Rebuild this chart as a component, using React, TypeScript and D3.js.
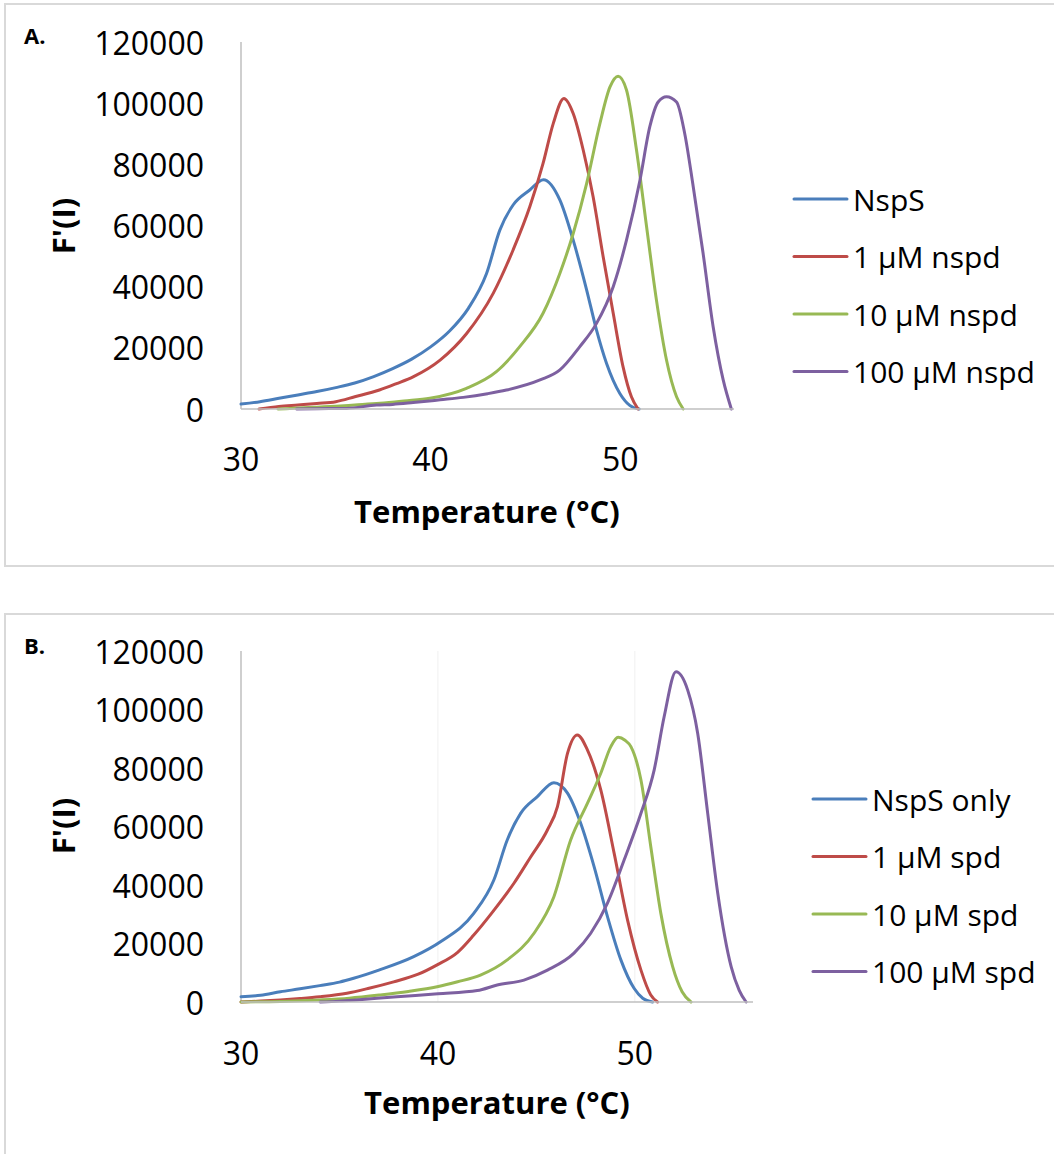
import React from 'react';
import * as d3 from 'd3';

type Pt = [number, number];

// temperature (°C), F'(I)
const colors = ['#4a7ebb', '#be4b48', '#98b954', '#7d60a0'];
const xTicks = [30, 40, 50];
const yTicks = [0, 20000, 40000, 60000, 80000, 100000, 120000];

const namesA = ['NspS', '1 µM nspd', '10 µM nspd', '100 µM nspd'];
const namesB = ['NspS only', '1 µM spd', '10 µM spd', '100 µM spd'];

// panel A
const nspsA: Pt[] = [[30, 1600], [31, 2400], [32, 3500], [33, 4600], [34, 5700], [35, 7000], [36, 8500], [37, 10600], [38, 13200], [39, 16300], [40, 20300], [41, 25500], [42, 33000], [42.95, 44300], [43.65, 58500], [44.35, 66700], [45.23, 71600], [45.95, 75000], [46.82, 68300], [47.52, 55200], [48.23, 38900], [48.75, 25800], [49.28, 14900], [49.98, 5100], [50.5, 1200], [51.0, 0]];
const nspd1A: Pt[] = [[30.95, 0], [32, 800], [33, 1300], [34, 1800], [35, 2400], [36, 4000], [37.3, 6200], [38.2, 8300], [39.1, 10600], [40.5, 16000], [41.9, 24700], [43.3, 37800], [44.35, 52000], [45.23, 66100], [45.93, 80300], [46.47, 93400], [47.03, 101500], [47.52, 96600], [48.05, 84600], [48.57, 69400], [49.1, 49800], [49.63, 31300], [50.15, 13800], [50.59, 4000], [50.94, 0]];
const nspd10A: Pt[] = [[31.95, 0], [33, 300], [34, 600], [35, 900], [36, 1300], [37.33, 1850], [38.6, 2600], [39.96, 3500], [41.89, 6760], [43.47, 12200], [44.7, 20400], [45.93, 31300], [46.82, 44400], [47.52, 57400], [48.23, 73800], [48.93, 93400], [49.46, 105300], [49.89, 108800], [50.33, 104300], [50.86, 84600], [51.39, 59600], [51.91, 35600], [52.44, 16000], [52.97, 4000], [53.32, 0]];
const nspd100A: Pt[] = [[32.93, 0], [34, 100], [35.57, 200], [37.15, 1300], [38, 1500], [39.08, 2100], [40.5, 3000], [41.72, 3800], [43, 5000], [44, 6200], [45.77, 9500], [46.82, 12800], [47.87, 20400], [48.75, 28000], [49.63, 40000], [50.33, 55200], [51.04, 74800], [51.56, 92300], [52, 100400], [52.44, 102100], [52.97, 100400], [53.4, 90100], [53.85, 72700], [54.37, 50900], [54.9, 26900], [55.43, 9500], [55.86, 0]];

// panel B
const nspsB: Pt[] = [[30, 1800], [31, 2300], [32, 3500], [33, 4500], [34, 5600], [35, 6800], [35.72, 8100], [37, 10900], [38.77, 15500], [40.13, 20600], [41.82, 30300], [42.84, 41700], [43.52, 55400], [44.2, 64500], [45.05, 70200], [45.89, 75000], [46.58, 71400], [47.25, 61100], [47.93, 46300], [48.61, 29200], [49.29, 14400], [49.96, 4700], [50.4, 1300], [50.9, 0]];
const spd1B: Pt[] = [[30, 0], [31, 300], [32, 700], [33, 1200], [34, 1800], [35.38, 3000], [36.5, 4700], [37.75, 6900], [39, 9500], [39.96, 12700], [41, 17000], [41.82, 22900], [42.8, 31000], [43.86, 40600], [44.7, 49500], [45.56, 58800], [46.07, 66800], [46.58, 85000], [47.08, 91300], [47.59, 86200], [48.27, 72500], [48.95, 50800], [49.63, 28000], [50.31, 10900], [50.8, 2500], [51.15, 0]];
const spd10B: Pt[] = [[30, 0], [32, 200], [34, 700], [35.5, 1300], [37.07, 2400], [38.5, 3600], [39.96, 5200], [41, 6900], [42.16, 9200], [43.52, 14400], [44.88, 23500], [45.89, 36000], [46.74, 55400], [47.59, 67900], [48.27, 78200], [48.78, 87300], [49.15, 90500], [49.5, 89500], [49.8, 87300], [50.31, 75900], [50.81, 53100], [51.32, 30300], [51.92, 12100], [52.4, 3500], [52.85, 0]];
const spd100B: Pt[] = [[34.02, 0], [35, 300], [36, 800], [37.92, 1800], [40, 2800], [42, 3900], [43.01, 5800], [44.37, 7500], [45.56, 10900], [46.91, 16700], [47.76, 23500], [48.61, 33800], [49.46, 48600], [50.31, 64500], [50.98, 79300], [51.49, 97600], [52.09, 112900], [52.68, 106700], [53.19, 91900], [53.7, 64500], [54.21, 37200], [54.89, 12100], [55.3, 4000], [55.65, 0]];

const FONT = "'Open Sans', 'Liberation Sans', sans-serif";

type PanelProps = {
  letter: string;
  frameTop: number;
  frameH: number;
  xRange: [number, number];
  yRange: [number, number];
  series: Pt[][];
  names: string[];
  grid: boolean;
  xTitleX: number;
  xTitleY: number;
  xLabelY: number;
  yTitleY: number;
  legend: { x0: number; x1: number; tx: number; y0: number };
};

function Panel(p: PanelProps) {
  const x = d3.scaleLinear().domain([30, 56]).range(p.xRange);
  const y = d3.scaleLinear().domain([0, 120000]).range(p.yRange);
  const line = d3.line<Pt>()
    .x(d => x(d[0]))
    .y(d => y(d[1]))
    .curve(d3.curveMonotoneX);
  const base = y(0);

  return (
    <g>
      <rect x={5} y={p.frameTop} width={1060} height={p.frameH} fill="#fff" stroke="#d9d9d9" strokeWidth={2} />
      <text x={24} y={p.frameTop + 40} fontFamily={FONT} fontWeight="bold" fontSize={22}>{p.letter}</text>

      {p.grid && [40, 50].map(t => (
        <line key={t} x1={x(t)} x2={x(t)} y1={y(120000)} y2={base} stroke="#f0f0f0" strokeWidth={1} />
      ))}

      {/* y axis */}
      <line x1={x(30)} x2={x(30)} y1={y(120000)} y2={base} stroke="#bfbfbf" strokeWidth={1.5} />
      {yTicks.map(v => (
        <text key={v} x={204} y={y(v)} textAnchor="end" dominantBaseline="central"
          fontFamily={FONT} fontSize={32}>{v}</text>
      ))}
      <text transform={`translate(63,${p.yTitleY}) rotate(-90)`} textAnchor="middle" dominantBaseline="central"
        fontFamily={FONT} fontWeight="bold" fontSize={31}>F'(I)</text>

      {/* x axis */}
      {xTicks.map(t => (
        <text key={t} x={x(t)} y={p.xLabelY} textAnchor="middle" dominantBaseline="central"
          fontFamily={FONT} fontSize={32}>{t}</text>
      ))}
      <text x={p.xTitleX} y={p.xTitleY} textAnchor="middle" fontFamily={FONT} fontWeight="bold" fontSize={31}>
        Temperature (°C)
      </text>

      {p.series.map((s, i) => (
        <path key={i} d={line(s) || ''} fill="none" stroke={colors[i]} strokeWidth={3}
          strokeLinejoin="round" strokeLinecap="round" />
      ))}
      <line x1={x(30)} x2={x(56)} y1={base} y2={base} stroke="#bfbfbf" strokeWidth={1.5} />

      {p.names.map((n, i) => {
        const ly = p.legend.y0 + i * 57.5;
        return (
          <g key={n}>
            <line x1={p.legend.x0} x2={p.legend.x1} y1={ly} y2={ly} stroke={colors[i]} strokeWidth={3} strokeLinecap="round" />
            <text x={p.legend.tx} y={ly} dominantBaseline="central" fontFamily={FONT} fontSize={30}>{n}</text>
          </g>
        );
      })}
    </g>
  );
}

export default function App() {
  return (
    <svg width={1054} height={1154} style={{ position: 'absolute', left: 0, top: 0, background: '#fff' }}>
      <rect width={1054} height={1154} fill="#fff" />
      <Panel letter="A." frameTop={4} frameH={562} xRange={[241, 734]} yRange={[409, 42]}
        series={[nspsA, nspd1A, nspd10A, nspd100A]} names={namesA} grid={false}
        xTitleX={487} xTitleY={523} xLabelY={458} yTitleY={226}
        legend={{ x0: 794, x1: 847, tx: 853, y0: 199 }} />
      <Panel letter="B." frameTop={614} frameH={600} xRange={[241, 753]} yRange={[1002, 651]}
        series={[nspsB, spd1B, spd10B, spd100B]} names={namesB} grid={true}
        xTitleX={497} xTitleY={1114} xLabelY={1052} yTitleY={826}
        legend={{ x0: 813, x1: 866, tx: 872, y0: 799 }} />
    </svg>
  );
}
